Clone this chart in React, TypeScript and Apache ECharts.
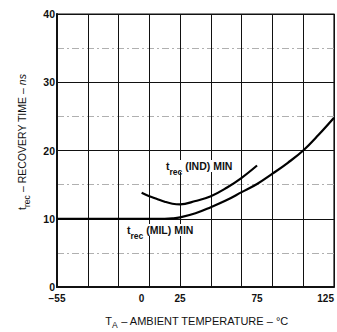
import React, { useEffect, useRef } from "react";
import * as echarts from "echarts";

// Ambient temperature (°C) and recovery time (ns)
const milTemps = [-55, -20, 0, 15, 20, 25, 35, 45, 55, 65, 75, 85, 95, 105, 115, 125];
const milTimes = [10, 10, 10, 10, 10.05, 10.2, 10.8, 11.7, 12.7, 13.9, 15.1, 16.6, 18.2, 20.0, 22.3, 24.8];
const indTemps = [0, 5, 10, 15, 20, 25, 35, 45, 55, 65, 75];
const indTimes = [13.8, 13.3, 12.9, 12.5, 12.2, 12.1, 12.6, 13.3, 14.5, 16.0, 17.8];
const xTickLabels = [-55, 0, 25, 75, 125];
const yTickLabels = [0, 10, 20, 30, 40];

const FONT = "'Liberation Sans', Arial, Helvetica, sans-serif";

export default function App() {
  const ref = useRef<HTMLDivElement>(null);
  useEffect(() => {
    if (!ref.current) return;
    const chart = echarts.init(ref.current, undefined, { renderer: "svg" });
    const sub = {
      t: { fontSize: 10.5, fontFamily: FONT, fontWeight: "bold", lineHeight: 12, verticalAlign: "top", fill: "#111" },
      s: { fontSize: 8.5, fontFamily: FONT, fontWeight: "bold", lineHeight: 9, padding: [7, 0, 0, 0], verticalAlign: "top", fill: "#111" },
    };
    chart.setOption({
      animation: false,
      grid: { left: 57, right: 1, top: 14, bottom: 45, show: true, borderColor: "#111", borderWidth: 1.2 },
      xAxis: [
        {
          type: "value",
          min: -55,
          max: 125,
          interval: 5,
          axisLine: { show: true, onZero: false, lineStyle: { color: "#111", width: 2 } },
          axisTick: { show: false },
          splitLine: { show: false },
          axisLabel: {
            margin: 6,
            color: "#111",
            fontFamily: FONT,
            fontWeight: "bold",
            fontSize: 10,
            showMinLabel: true,
            showMaxLabel: true,
            alignMaxLabel: "right",
            formatter: (v: number) => (xTickLabels.includes(v) ? (v < 0 ? "\u2212" + Math.abs(v) : String(v)) : ""),
          },
        },
        {
          type: "value",
          min: 0,
          max: 180,
          interval: 20,
          position: "top",
          show: true,
          z: 1,
          axisLine: { show: false, onZero: false },
          axisTick: { show: false },
          axisLabel: { show: false },
          splitLine: { show: true, lineStyle: { color: "#111", width: 1 } },
        },
      ],
      yAxis: [
        {
          type: "value",
          min: 0,
          max: 40,
          interval: 5,
          axisLine: { show: true, onZero: false, lineStyle: { color: "#111", width: 2 } },
          axisTick: { show: false },
          splitLine: { show: true, lineStyle: { color: "#b0b0b0", width: 1, type: [7, 3, 2, 3] } },
          axisLabel: {
            margin: 2,
            color: "#111",
            fontFamily: FONT,
            fontWeight: "bold",
            fontSize: 10.5,
            formatter: (v: number) => (yTickLabels.includes(v) ? String(v) : ""),
          },
        },
        {
          type: "value",
          min: 0,
          max: 40,
          interval: 10,
          z: 1,
          axisLine: { show: false, onZero: false },
          axisTick: { show: false },
          axisLabel: { show: false },
          splitLine: { show: true, lineStyle: { color: "#111", width: 1 } },
        },
      ],
      series: [
        {
          name: "trec (MIL) MIN",
          type: "line",
          xAxisIndex: 0,
          yAxisIndex: 0,
          data: milTemps.map((t, i) => [t, milTimes[i]]),
          smooth: 0.4,
          showSymbol: false,
          z: 5,
          lineStyle: { color: "#000", width: 2.2 },
        },
        {
          name: "trec (IND) MIN",
          type: "line",
          xAxisIndex: 0,
          yAxisIndex: 0,
          data: indTemps.map((t, i) => [t, indTimes[i]]),
          smooth: 0.4,
          showSymbol: false,
          z: 5,
          lineStyle: { color: "#000", width: 2.2 },
        },
      ],
      graphic: [
        {
          type: "text",
          left: 166,
          top: 160,
          z: 10,
          style: { text: "{t|t}{s|rec}{t| (IND) MIN}", rich: sub, backgroundColor: "#fff" },
        },
        {
          type: "text",
          left: 127,
          top: 224,
          z: 10,
          style: { text: "{t|t}{s|rec}{t| (MIL) MIN}", rich: sub, backgroundColor: "#fff" },
        },
        {
          type: "text",
          x: 197,
          y: 321,
          z: 10,
          style: {
            text: "{a|T}{b|A}{c| \u2013 AMBIENT TEMPERATURE \u2013 °C}",
            align: "center",
            verticalAlign: "middle",
            rich: {
              a: { fontSize: 11, fontFamily: FONT, lineHeight: 12, verticalAlign: "top", fill: "#111" },
              b: { fontSize: 8.5, fontFamily: FONT, lineHeight: 9, padding: [5, 0, 0, 0], verticalAlign: "top", fill: "#111" },
              c: { fontSize: 11, fontFamily: FONT, lineHeight: 12, verticalAlign: "top", fill: "#111" },
            },
          },
        },
        {
          type: "text",
          x: 22,
          y: 142,
          rotation: Math.PI / 2,
          z: 10,
          style: {
            text: "{t|t}{s|rec}{t| \u2013 RECOVERY TIME \u2013 }{i|ns}",
            align: "center",
            verticalAlign: "middle",
            rich: {
              t: { fontSize: 10.5, fontFamily: FONT, lineHeight: 12, verticalAlign: "top", fill: "#111" },
              s: { fontSize: 8.5, fontFamily: FONT, lineHeight: 9, padding: [6, 0, 0, 0], verticalAlign: "top", fill: "#111" },
              i: { fontSize: 10.5, fontFamily: FONT, fontStyle: "italic", lineHeight: 12, verticalAlign: "top", fill: "#111" },
            },
          },
        },
      ],
    });
    return () => chart.dispose();
  }, []);
  return <div ref={ref} style={{ width: 337, height: 332, position: "absolute", left: 0, top: 0 }} />;
}
